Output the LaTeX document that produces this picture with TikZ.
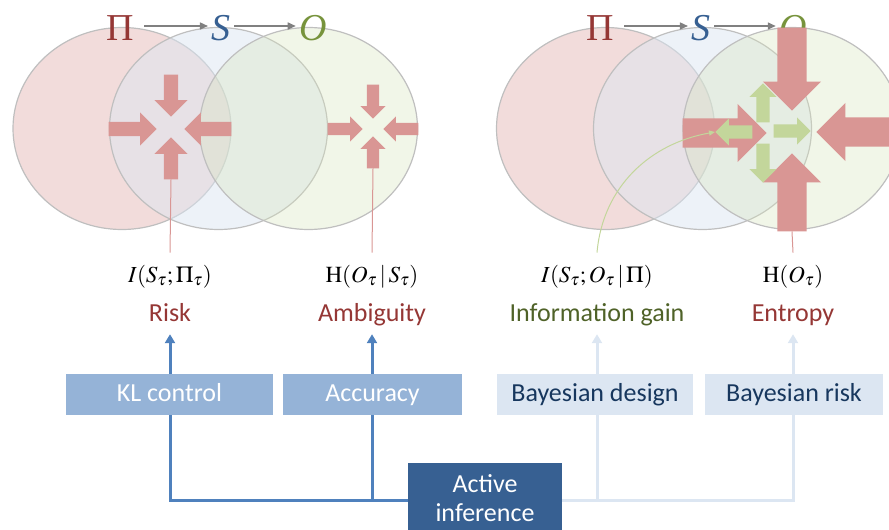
\documentclass[tikz,border=0pt]{standalone}
\usepackage{mathptmx}
\usepackage[no-math]{fontspec}
\setmainfont{Carlito}
\newfontfamily\tms{Liberation Serif}
\usetikzlibrary{shapes.arrows,arrows.meta}

\definecolor{pinkc}{HTML}{E6B9B8}
\definecolor{bluec}{HTML}{DCE6F2}
\definecolor{greenc}{HTML}{D7E4BD}
\definecolor{vennline}{HTML}{BFBFBF}
\definecolor{redfat}{HTML}{D99694}
\definecolor{grnfat}{HTML}{C3D69B}
\definecolor{redtxt}{HTML}{953735}
\definecolor{bluetxt}{HTML}{376092}
\definecolor{grntxt}{HTML}{77933C}
\definecolor{infotxt}{HTML}{4F6228}
\definecolor{boxmid}{HTML}{95B3D7}
\definecolor{boxpale}{HTML}{DCE6F2}
\definecolor{boxdark}{HTML}{376092}
\definecolor{navytxt}{HTML}{17375E}
\definecolor{linedark}{HTML}{4F81BD}

\tikzset{
  venn/.style={draw=vennline, line width=1.2pt},
  fatarr/.style={single arrow, draw=none, inner xsep=0pt, minimum width=0pt, single arrow tip angle=90, anchor=tip},
  redmid/.style={fatarr, fill=redfat, inner ysep=7pt, single arrow head extend=9.5pt},
  redsmall/.style={fatarr, fill=redfat, inner ysep=6pt, single arrow head extend=6.5pt},
  redbig/.style={fatarr, fill=redfat, inner ysep=14.5pt, single arrow head extend=14.5pt},
  grnarr/.style={fatarr, fill=grnfat, inner ysep=6.5pt, single arrow head extend=7pt},
  bigl/.style={font=\fontsize{38}{40}\selectfont\tms, anchor=base, text height=28pt, text depth=0pt},
  mathlbl/.style={font=\fontsize{23}{27}\selectfont, anchor=base, inner sep=12pt},
  wordlbl/.style={font=\fontsize{26}{29}\selectfont, anchor=base, text depth=5pt, inner sep=8pt},
  tbox/.style={rectangle, font=\fontsize{26}{29}\selectfont, minimum height=41pt, inner sep=0pt, text height=18pt, text depth=4pt},
  greyarr/.style={draw=gray, line width=1.5pt, -{Triangle[width=7pt,length=8pt]}},
  redthin/.style={draw=redfat, line width=1pt},
  darkline/.style={draw=linedark, line width=3pt, -{Triangle[width=10pt,length=9pt]}},
  paleline/.style={draw=boxpale, line width=3pt, -{Triangle[width=10pt,length=9pt]}}
}

\begin{document}
\begin{tikzpicture}[x=1pt,y=-1pt]
   \useasboundingbox (0,0) rectangle (889,530);
   \clip (0,0) rectangle (889,530);

   % left diagram
   \fill[pinkc, fill opacity=.5] (122,128.5) ellipse [x radius=109, y radius=101];
   \draw[venn] (122,128.5) ellipse [x radius=109, y radius=101];
   \fill[bluec, fill opacity=.5] (218.5,128.5) ellipse [x radius=109, y radius=101];
   \draw[venn] (218.5,128.5) ellipse [x radius=109, y radius=101];
   \fill[greenc, fill opacity=.35] (308.5,128.5) ellipse [x radius=109, y radius=101];
   \draw[venn] (308.5,128.5) ellipse [x radius=109, y radius=101];

   \node[bigl, text=redtxt] (pi1) at (120,40) {Π};
   \node[bigl, text=bluetxt] (s1) at (221,40) {\itshape S};
   \node[bigl, text=grntxt] (o1) at (313,40) {\itshape O};
   \draw[greyarr, shorten <=7pt] (pi1) -- (s1);
   \draw[greyarr] (s1) -- (o1);

   \node[redmid, minimum height=42pt, rotate=-90] (c1t) at (171,117) {};
   \node[redmid, minimum height=42pt, rotate=90] (c1b) at (171,137) {};
   \node[redmid, minimum height=48pt] (c1l) at (157,129) {};
   \node[redmid, minimum height=47pt, rotate=180] (c1r) at (184,129) {};

   \node[redsmall, minimum height=34pt, rotate=-90] (c2t) at (373,119) {};
   \node[redsmall, minimum height=32pt, rotate=90] (c2b) at (373,136) {};
   \node[redsmall, minimum height=35pt] (c2l) at (363,129) {};
   \node[redsmall, minimum height=35pt, rotate=180] (c2r) at (383,129) {};

   % right diagram
   \fill[pinkc, fill opacity=.5] (605.5,128.5) ellipse [x radius=109, y radius=101];
   \draw[venn] (605.5,128.5) ellipse [x radius=109, y radius=101];
   \fill[bluec, fill opacity=.5] (702.5,128.5) ellipse [x radius=109, y radius=101];
   \draw[venn] (702.5,128.5) ellipse [x radius=109, y radius=101];
   \fill[greenc, fill opacity=.35] (792,128.5) ellipse [x radius=109, y radius=101];
   \draw[venn] (792,128.5) ellipse [x radius=109, y radius=101];

   \node[bigl, text=redtxt] (pi2) at (600,40) {Π};
   \node[bigl, text=bluetxt] (s2) at (701,40) {\itshape S};
   \node[bigl, text=grntxt] (o2) at (793,40) {\itshape O};
   \draw[greyarr, shorten <=7pt] (pi2) -- (s2);
   \draw[greyarr] (s2) -- (o2);

   \node[redbig, minimum height=83pt, rotate=-90] (c3t) at (792,111) {};
   \node[redbig, minimum height=78pt, rotate=90] (c3b) at (792,153) {};
   \node[redbig, minimum height=84pt] (c3l) at (767,133) {};
   \node[redbig, minimum height=84pt, rotate=180] (c3r) at (816,132) {};

   \node[grnarr, minimum height=39pt, rotate=90] (g1t) at (763,83) {};
   \node[grnarr, minimum height=39pt, rotate=-90] (g1b) at (763,183) {};
   \node[grnarr, minimum height=37pt] (g1r) at (811,131) {};
   \node[grnarr, minimum height=37pt, rotate=180] (g1l) at (715,132) {};

   % terms
   \node[mathlbl] (ilbl1) at (170,282) {$I(S_\tau;\Pi_\tau)$};
   \node[mathlbl] (ilbl2) at (372,282) {$\mathrm{H}(O_\tau\,|\,S_\tau)$};
   \node[mathlbl] (ilbl3) at (597,282) {$I(S_\tau;O_\tau\,|\,\Pi)$};
   \node[mathlbl] (ilbl4) at (793,282) {$\mathrm{H}(O_\tau)$};

   \node[wordlbl, text=redtxt] (risk) at (170,321) {Risk};
   \node[wordlbl, text=redtxt] (ambig) at (372,321) {Ambiguity};
   \node[wordlbl, text=infotxt] (infogain) at (597,321) {Information gain};
   \node[wordlbl, text=redtxt] (entropy) at (793,321) {Entropy};

   \draw[redthin] (c1b.tail) -- (ilbl1.north);
   \draw[redthin] (c2b.tail) -- (ilbl2.north);
   \draw[redthin] (c3b.tail) -- (ilbl4.north);
   \draw[grnfat, line width=1pt, -{Triangle[width=5pt,length=6pt]}] (ilbl3.north) to[out=85,in=190] (g1l.tip);

   % connectors
   \coordinate (jm) at (485,500);
   \draw[paleline] (jm) -| (entropy.south);
   \draw[paleline] (infogain.south |- jm) -- (infogain.south);
   \draw[darkline] (jm) -| (risk.south);
   \draw[darkline] (ambig.south |- jm) -- (ambig.south);

   \node[tbox, fill=boxmid, text=white, minimum width=207pt] (kl) at (169.5,394.5) {KL control};
   \node[tbox, fill=boxmid, text=white, minimum width=179pt] (acc) at (372.5,394.5) {Accuracy};
   \node[tbox, fill=boxpale, text=navytxt, minimum width=196pt] (bdes) at (595,394.5) {Bayesian design};
   \node[tbox, fill=boxpale, text=navytxt, minimum width=178pt] (brisk) at (794,394.5) {Bayesian risk};
   \node[rectangle, inner sep=0pt, font=\fontsize{26}{29}\selectfont, fill=boxdark, text=white, minimum width=154pt, minimum height=70pt, anchor=north, align=center] (act) at (485,463) {Active\\inference};
\end{tikzpicture}
\end{document}
